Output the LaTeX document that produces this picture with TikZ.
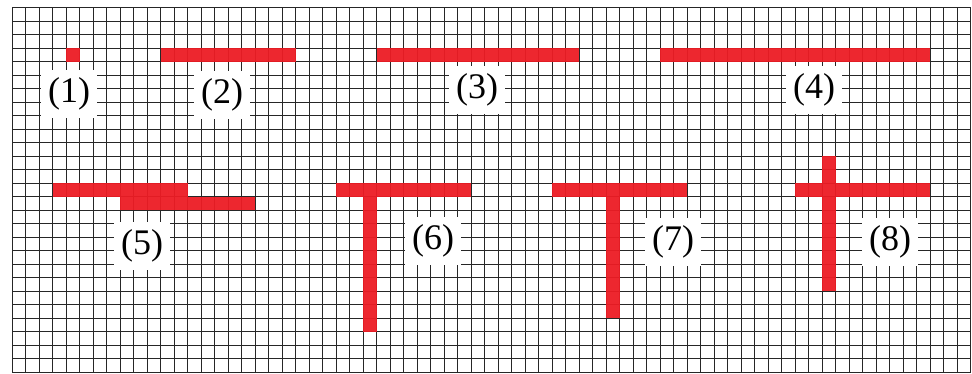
\documentclass[tikz,border=0pt]{standalone}
\usepackage{fontspec}
\setmainfont{Liberation Serif}
\begin{document}
\begin{tikzpicture}[
  gridline/.style={draw=black!85, line width=1.0pt},
  redcell/.style={fill={rgb,255:red,237;green,28;blue,36}, fill opacity=0.95, draw=none},
  lbl/.style={fill=white, inner sep=0pt, minimum width=56pt, minimum height=48pt,
    font=\fontsize{36}{36}\selectfont}
]
\useasboundingbox (0pt,0pt) rectangle (972pt,-373pt);
\fill[white] (0pt,0pt) rectangle (972pt,-373pt);
\begin{scope}[shift={(12pt,-7.5pt)}, x=13.5pt, y=-13.5pt]
  % grid
  \foreach \i in {0,...,71} \draw[gridline] (\i,0) -- (\i,27);
  \foreach \j in {0,...,27} \draw[gridline] (0,\j) -- (71,\j);
  % (1)
  \fill[redcell] (4,3) rectangle (5,4);
  % (2)
  \fill[redcell] (11,3) rectangle (21,4);
  % (3)
  \fill[redcell] (27,3) rectangle (42,4);
  % (4)
  \fill[redcell] (48,3) rectangle (68,4);
  % (5)
  \fill[redcell] (3,13) rectangle (13,14);
  \fill[redcell] (8,14) rectangle (18,15);
  % (6)
  \fill[redcell] (24,13) rectangle (34,14);
  \fill[redcell] (26,14) rectangle (27,24);
  % (7)
  \fill[redcell] (40,13) rectangle (50,14);
  \fill[redcell] (44,14) rectangle (45,23);
  % (8)
  \fill[redcell] (58,13) rectangle (68,14);
  \fill[redcell] (60,11) rectangle (61,13);
  \fill[redcell] (60,14) rectangle (61,21);
\end{scope}
% labels
\node[lbl] (l1) at (69pt,-94pt) {(1)};
\node[lbl] (l2) at (222pt,-95pt) {(2)};
\node[lbl] (l3) at (477pt,-90pt) {(3)};
\node[lbl] (l4) at (814pt,-90pt) {(4)};
\node[lbl] (l5) at (142pt,-246pt) {(5)};
\node[lbl] (l6) at (433pt,-241pt) {(6)};
\node[lbl] (l7) at (673pt,-242pt) {(7)};
\node[lbl] (l8) at (890pt,-242pt) {(8)};
\end{tikzpicture}
\end{document}
